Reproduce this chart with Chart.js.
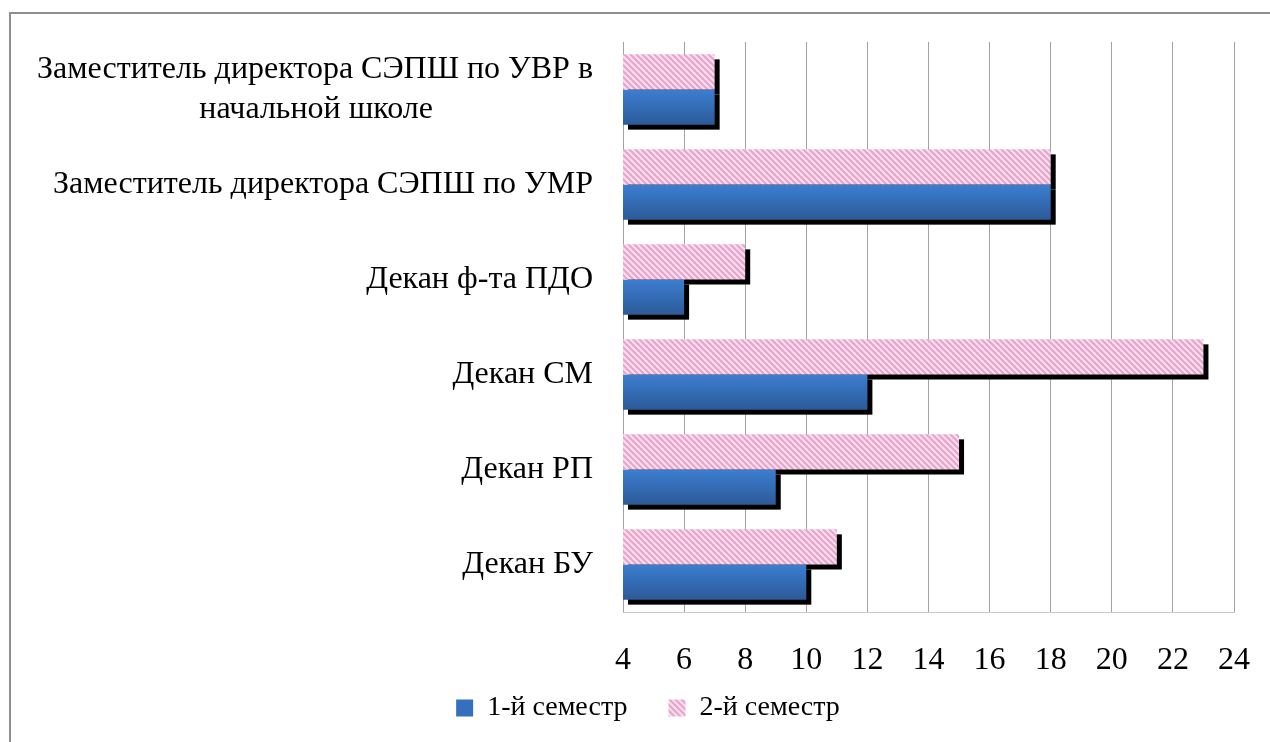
<!DOCTYPE html>
<html>
<head>
<meta charset="utf-8">
<script src="https://cdn.jsdelivr.net/npm/chart.js@4"></script>
<style>
  body { margin: 0; background: #fff; }
  #wrap { position: relative; width: 1270px; height: 742px; overflow: hidden; }
  #frame { position: absolute; left: 9px; top: 12px; width: 1400px; height: 900px;
           border-left: 2px solid #8f8f8f; border-top: 2px solid #8f8f8f; }
  #chart { position: absolute; left: 0; top: 0; }
</style>
</head>
<body>
<div id="wrap">
  <div id="frame"></div>
  <canvas id="chart" width="1270" height="742"></canvas>
</div>
<script>
// данные
var categories = [
  ['Заместитель директора СЭПШ по УВР в', 'начальной школе'],
  'Заместитель директора СЭПШ по УМР',
  'Декан ф-та ПДО',
  'Декан СМ',
  'Декан РП',
  'Декан БУ'
];
var seriesNames = ['1-й семестр', '2-й семестр'];
var semester1 = [7, 18, 6, 12, 9, 10];
var semester2 = [7, 18, 8, 23, 15, 11];
var xTicks = [4, 6, 8, 10, 12, 14, 16, 18, 20, 22, 24];

var CAT_PCT = 0.74;
var FONT = "'Liberation Serif', 'Times New Roman', serif";
var LABEL_SIZE = 32;
var BLUE_MID = '#3470bd';

// розовая штриховка
function makeHatch() {
  var s = 6;
  var c = document.createElement('canvas');
  c.width = s; c.height = s;
  var g = c.getContext('2d');
  g.fillStyle = '#f9dcee';
  g.fillRect(0, 0, s, s);
  g.strokeStyle = '#e6a4ca';
  g.lineWidth = 2;
  g.beginPath();
  g.moveTo(-1, -1); g.lineTo(s + 1, s + 1);
  g.moveTo(-1, s - 1); g.lineTo(1, s + 1);
  g.moveTo(s - 1, -1); g.lineTo(s + 1, 1);
  g.stroke();
  return g.createPattern(c, 'repeat');
}
var hatch = makeHatch();

// синий градиент по высоте столбика
function blueFill(ctx) {
  var chart = ctx.chart;
  var y = chart.scales && chart.scales.y;
  if (ctx.dataIndex === undefined || !y || !y.height) return BLUE_MID;
  var c = y.getPixelForValue(ctx.dataIndex);
  var h = (y.height / categories.length) * CAT_PCT / 2;
  var grad = chart.ctx.createLinearGradient(0, c, 0, c + h);
  grad.addColorStop(0, '#3c7ed1');
  grad.addColorStop(1, '#2c5a98');
  return grad;
}

// тень под столбиками
var barShadow = {
  id: 'barShadow',
  beforeDatasetsDraw: function (chart) {
    var ctx = chart.ctx;
    var left = chart.chartArea.left;
    ctx.save();
    ctx.fillStyle = '#000';
    chart.data.datasets.forEach(function (ds, i) {
      var meta = chart.getDatasetMeta(i);
      if (meta.hidden) return;
      meta.data.forEach(function (bar) {
        var p = bar.getProps(['x', 'y', 'base', 'height'], true);
        var x0 = Math.max(Math.min(p.x, p.base), left);
        var x1 = Math.max(p.x, p.base);
        ctx.fillRect(x0 + 5, p.y - p.height / 2 + 5, x1 - x0, p.height);
      });
    });
    ctx.restore();
  }
};

// легенда под подписями оси
var legendPlace = {
  id: 'legendPlace',
  afterLayout: function (chart) {
    var lg = chart.legend;
    if (!lg) return;
    lg.top = 653;
    lg.bottom = chart.height;
    lg.height = lg.bottom - lg.top;
    lg.left += 31; lg.right += 31;
  }
};

function noScalePadding(s) {
  s.paddingLeft = 0; s.paddingRight = 0;
  s.paddingTop = 0; s.paddingBottom = 0;
}

// центрируем строки многострочной подписи
var measureCtx = document.createElement('canvas').getContext('2d');
measureCtx.font = LABEL_SIZE + 'px ' + FONT;
function centerLines(label) {
  if (!Array.isArray(label)) return label;
  var widths = label.map(function (l) { return measureCtx.measureText(l).width; });
  var maxW = Math.max.apply(null, widths);
  var sp = measureCtx.measureText(' ').width;
  return label.map(function (l, i) {
    var n = Math.round((maxW - widths[i]) / 2 / sp);
    return l + ' '.repeat(n);
  });
}

var chart = new Chart(document.getElementById('chart').getContext('2d'), {
  type: 'bar',
  data: {
    labels: categories,
    datasets: [
      { label: seriesNames[1], data: semester2, backgroundColor: hatch, borderWidth: 0 },
      { label: seriesNames[0], data: semester1, backgroundColor: blueFill, borderWidth: 0 }
    ]
  },
  options: {
    indexAxis: 'y',
    responsive: false,
    animation: false,
    events: [],
    devicePixelRatio: 1,
    categoryPercentage: CAT_PCT,
    barPercentage: 1,
    layout: { padding: { top: 42, right: 36, bottom: 0, left: 0 } },
    font: { family: FONT },
    scales: {
      x: {
        min: 4, max: 24,
        afterBuildTicks: function (s) { s.ticks = xTicks.map(function (v) { return { value: v }; }); },
        afterFit: function (s) { s.height = 100; noScalePadding(s); },
        grid: { color: '#a3a3a3', drawTicks: false },
        border: { color: '#c8c8c8' },
        ticks: { color: '#000', padding: 29, font: { family: FONT, size: 32 } }
      },
      y: {
        afterFit: function (s) { s.width = 623; noScalePadding(s); },
        grid: { display: false, drawTicks: false },
        border: { display: false },
        ticks: {
          color: '#000', padding: 30,
          font: { family: FONT, size: LABEL_SIZE, lineHeight: 1.25 },
          callback: function (v, i) { return centerLines(categories[i]); }
        }
      }
    },
    plugins: {
      tooltip: { enabled: false },
      legend: {
        position: 'bottom',
        reverse: true,
        maxHeight: 30,
        labels: {
          color: '#000',
          boxWidth: 17, boxHeight: 17,
          padding: 41,
          font: { family: FONT, size: 28 },
          generateLabels: function (chart) {
            var items = Chart.defaults.plugins.legend.labels.generateLabels(chart);
            items.forEach(function (it) {
              if (it.datasetIndex === 1) it.fillStyle = BLUE_MID;
            });
            return items;
          }
        }
      }
    }
  },
  plugins: [barShadow, legendPlace]
});
</script>
</body>
</html>
